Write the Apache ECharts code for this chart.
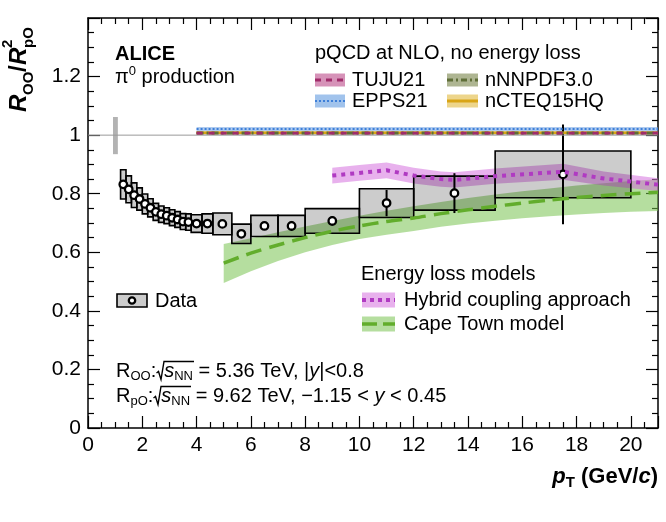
<!DOCTYPE html>
<html>
<head>
<meta charset="utf-8">
<script src="https://cdn.jsdelivr.net/npm/echarts@6/dist/echarts.min.js"></script>
<style>
html,body{margin:0;padding:0;background:#fff;}
#chart{width:666px;height:522px;}
</style>
</head>
<body>
<div id="chart"></div>
<script>
// ---------------- data ----------------
const binLo   = [1.2,1.4,1.6,1.8,2.0,2.2,2.4,2.6,2.8,3.0,3.2,3.4,3.6,3.8,4.2,4.6,5.3,6,7,8,10,12,15];
const binHi   = [1.4,1.6,1.8,2.0,2.2,2.4,2.6,2.8,3.0,3.2,3.4,3.6,3.8,4.2,4.6,5.3,6,7,8,10,12,15,20];
const ptMean  = [1.3,1.5,1.7,1.9,2.1,2.3,2.5,2.7,2.9,3.1,3.3,3.5,3.7,4.0,4.4,4.95,5.65,6.5,7.5,9,11,13.5,17.5];
const ratio   = [0.832,0.815,0.795,0.782,0.765,0.752,0.738,0.730,0.725,0.718,0.712,0.705,0.703,0.698,0.698,0.697,0.663,0.690,0.690,0.707,0.768,0.802,0.866];
const statErr = [0.006,0.006,0.006,0.006,0.006,0.006,0.006,0.006,0.006,0.006,0.007,0.007,0.008,0.008,0.009,0.010,0.011,0.012,0.017,0.016,0.045,0.068,0.170];
const sysErr  = [0.050,0.046,0.042,0.038,0.034,0.031,0.029,0.028,0.027,0.027,0.027,0.027,0.028,0.030,0.033,0.037,0.033,0.036,0.036,0.042,0.049,0.058,0.080];

// normalisation uncertainty box at unity
const normPt  = [0.92, 1.10];
const normVal = [0.935, 1.062];

// reference line at unity
const unityX = [0, 21];
const unityY = [1, 1];

// pQCD at NLO, no energy loss (flat near unity)
const pqcdPt       = [4, 21];
const epps21Mid    = [1.021, 1.021];
const epps21Err    = [0.007, 0.007];
const tuju21Mid    = [1.007, 1.007];
const tuju21Err    = [0.004, 0.004];
const nnnpdfMid    = [1.007, 1.007];
const nnnpdfErr    = [0.005, 0.005];
const ncteqMid     = [1.008, 1.008];
const ncteqErr     = [0.005, 0.005];

// Hybrid coupling approach
const hybridPt  = [9, 10, 11, 12, 13, 13.5, 15, 17.5, 19, 21];
const hybridMid = [0.862, 0.871, 0.880, 0.862, 0.850, 0.847, 0.860, 0.875, 0.852, 0.831];
const hybridErr = [0.027, 0.027, 0.027, 0.027, 0.026, 0.026, 0.026, 0.027, 0.024, 0.022];

// Cape Town model
const capePt  = [5, 6, 7, 8, 9, 10, 11, 12, 13, 14, 15, 16, 17, 18, 19, 20, 21];
const capeMid = [0.563,0.597,0.625,0.650,0.672,0.690,0.705,0.717,0.732,0.745,0.757,0.768,0.778,0.787,0.794,0.800,0.805];
const capeHi  = [0.628,0.648,0.668,0.688,0.707,0.725,0.742,0.757,0.772,0.785,0.797,0.808,0.818,0.828,0.836,0.843,0.849];
const capeLo  = [0.495,0.535,0.570,0.600,0.625,0.645,0.660,0.673,0.687,0.698,0.708,0.716,0.723,0.729,0.734,0.738,0.741];

// axes
const xMin = 0, xMax = 21, xStep = 2;
const yMin = 0, yMax = 1.4, yStep = 0.2;

// ---------------- helpers ----------------
const FF = '"Liberation Sans", Arial, Helvetica, sans-serif';

function bandSeries(name, xs, lo, hi, fill) {
  const data = xs.map((x, i) => [x, lo[i], hi[i]]);
  return {
    name, type: 'custom', coordinateSystem: 'cartesian2d', silent: true, clip: true,
    encode: { x: 0, y: [1, 2] },
    data,
    renderItem: (params, api) => {
      if (params.dataIndex !== 0) return null;
      const pts = [];
      for (let i = 0; i < data.length; i++) pts.push(api.coord([data[i][0], data[i][2]]));
      for (let i = data.length - 1; i >= 0; i--) pts.push(api.coord([data[i][0], data[i][1]]));
      return { type: 'polygon', shape: { points: pts }, style: { fill } };
    }
  };
}
function lineSeries(name, xs, ys, color, width, dash, smooth) {
  return {
    name, type: 'line', silent: true, showSymbol: false, symbol: 'none', smooth: smooth || false,
    data: xs.map((x, i) => [x, ys[i]]),
    lineStyle: { color, width, type: dash || 'solid' },
    animation: false
  };
}
const sub = (a, b) => a.map((v, i) => +(v - b[i]).toFixed(4));
const add = (a, b) => a.map((v, i) => +(v + b[i]).toFixed(4));

// ---------------- axes styling ----------------
function axisCommon(showLabel) {
  return {
    axisLine: { show: true, onZero: false, lineStyle: { color: '#000', width: 1.5 } },
    axisTick: { show: true, inside: true, length: 12, lineStyle: { color: '#000', width: 1.2 } },
    minorTick: { show: true, splitNumber: 4, length: 6, lineStyle: { color: '#000', width: 1.2 } },
    splitLine: { show: false }, minorSplitLine: { show: false },
    axisLabel: { show: showLabel, color: '#000', fontSize: 21, fontFamily: FF, margin: 7, showMaxLabel: false }
  };
}
const xAxisCfg = (pos, showLabel) => Object.assign({ type: 'value', position: pos, min: xMin, max: xMax, interval: xStep }, axisCommon(showLabel));
const yAxisCfg = (pos, showLabel) => Object.assign({ type: 'value', position: pos, min: yMin, max: yMax, interval: yStep }, axisCommon(showLabel));

// ---------------- series ----------------
const series = [];
series.push(lineSeries('unity', unityX, unityY, '#9a9a9a', 1));
series.push({
  name: 'norm', type: 'custom', silent: true, clip: true,
  data: [[normPt[0], normPt[1], normVal[0], normVal[1]]],
  renderItem: (params, api) => {
    const p1 = api.coord([api.value(0), api.value(3)]);
    const p2 = api.coord([api.value(1), api.value(2)]);
    return { type: 'rect', shape: { x: p1[0], y: p1[1], width: p2[0] - p1[0], height: p2[1] - p1[1] }, style: { fill: '#b3b3b3' } };
  }
});
// pQCD bands
series.push(bandSeries('EPPS21 band', pqcdPt, sub(epps21Mid, epps21Err), add(epps21Mid, epps21Err), 'rgba(110,160,225,0.55)'));
series.push(bandSeries('nNNPDF band', pqcdPt, sub(nnnpdfMid, nnnpdfErr), add(nnnpdfMid, nnnpdfErr), 'rgba(110,120,70,0.45)'));
series.push(bandSeries('nCTEQ band', pqcdPt, sub(ncteqMid, ncteqErr), add(ncteqMid, ncteqErr), 'rgba(225,180,40,0.45)'));
series.push(bandSeries('TUJU band', pqcdPt, sub(tuju21Mid, tuju21Err), add(tuju21Mid, tuju21Err), 'rgba(190,80,140,0.45)'));
series.push(lineSeries('EPPS21', pqcdPt, epps21Mid, '#3d7fd9', 2, [2, 2]));
series.push(lineSeries('nCTEQ15HQ', pqcdPt, ncteqMid, '#d9a516', 2.5));
series.push(lineSeries('nNNPDF3.0', pqcdPt, nnnpdfMid, '#5f6e38', 3, [7, 3, 2, 3]));
series.push(lineSeries('TUJU21', pqcdPt, tuju21Mid, '#a02c6a', 3, [6, 6]));
// model bands
series.push(bandSeries('Cape band', capePt, capeLo, capeHi, 'rgba(120,195,80,0.55)'));
series.push(bandSeries('Hybrid band', hybridPt, sub(hybridMid, hybridErr), add(hybridMid, hybridErr), 'rgba(210,100,220,0.5)'));
series.push(lineSeries('Cape Town model', capePt, capeMid, '#62ad2c', 3.5, [16, 8], 0.3));
series.push(lineSeries('Hybrid coupling approach', hybridPt, hybridMid, '#b03ac2', 4, [4, 5]));
// data systematic boxes
series.push({
  name: 'sys', type: 'custom', silent: true, clip: true,
  encode: { x: [0, 1], y: 2 },
  data: ratio.map((v, i) => [binLo[i], binHi[i], v, sysErr[i]]),
  renderItem: (params, api) => {
    const p1 = api.coord([api.value(0), api.value(2) + api.value(3)]);
    const p2 = api.coord([api.value(1), api.value(2) - api.value(3)]);
    return { type: 'rect', shape: { x: p1[0], y: p1[1], width: p2[0] - p1[0], height: p2[1] - p1[1] },
      style: { fill: 'rgba(0,0,0,0.2)', stroke: '#000', lineWidth: 1.6 } };
  }
});
// statistical error bars
series.push({
  name: 'stat', type: 'custom', silent: true, clip: true,
  encode: { x: 0, y: 1 },
  data: ratio.map((v, i) => [ptMean[i], v, statErr[i]]),
  renderItem: (params, api) => {
    const a = api.coord([api.value(0), api.value(1) - api.value(2)]);
    const b = api.coord([api.value(0), api.value(1) + api.value(2)]);
    return { type: 'line', shape: { x1: a[0], y1: a[1], x2: b[0], y2: b[1] }, style: { stroke: '#000', lineWidth: 2 } };
  }
});
series.push({
  name: 'Data', type: 'scatter', silent: true, symbol: 'circle', symbolSize: 7.5,
  data: ratio.map((v, i) => [ptMean[i], v]),
  itemStyle: { color: '#fff', borderColor: '#000', borderWidth: 2.3, opacity: 1 }
});

// ---------------- graphic (legends & labels) ----------------
const T = (x, y, text, font) => ({
  type: 'text', x, y, silent: true,
  style: { text, font: font || ('20px ' + FF), fill: '#000', align: 'left', verticalAlign: 'middle' }
});
const richBase = {
  n:   { fontSize: 20, fontFamily: FF, lineHeight: 24 },
  i:   { fontSize: 20, fontFamily: FF, fontStyle: 'italic', lineHeight: 24 },
  sub: { fontSize: 13, fontFamily: FF, lineHeight: 13, verticalAlign: 'bottom' },
  sup: { fontSize: 13, fontFamily: FF, lineHeight: 13, verticalAlign: 'top' },
  rad: { fontSize: 20, fontFamily: FF, lineHeight: 24, width: 8 }
};
const RT = (x, y, text, rich, align) => ({
  type: 'text', x, y, silent: true,
  style: { text, rich, fill: '#000', align: align || 'left', verticalAlign: 'middle', font: '20px ' + FF }
});
// square-root sign drawn as a polyline with overbar
function radical(x0, cy, xEnd) {
  return { type: 'polyline', silent: true,
    shape: { points: [[x0, cy + 1], [x0 + 2, cy - 0.5], [x0 + 4.5, cy + 7.5], [x0 + 7.5, cy - 10.5], [xEnd, cy - 10.5]] },
    style: { stroke: '#000', lineWidth: 1.4, fill: null } };
}

function swatch(x, y, w, h, fill, lineColor, lw, dash) {
  return [
    { type: 'rect', silent: true, shape: { x, y: y - h / 2, width: w, height: h }, style: { fill } },
    { type: 'line', silent: true, shape: { x1: x, y1: y, x2: x + w, y2: y }, style: { stroke: lineColor, lineWidth: lw, lineDash: dash || null } }
  ];
}

const graphics = [];
graphics.push(T(115, 54, 'ALICE', 'bold 20px ' + FF));
graphics.push(RT(115, 77, '{n|π}{sup|0}{n| production}', richBase));
graphics.push(T(315, 53, 'pQCD at NLO, no energy loss'));
graphics.push(...swatch(315, 80, 30, 13, 'rgba(200,110,160,0.75)', '#a02c6a', 3, [6, 5]));
graphics.push(T(352, 80, 'TUJU21'));
graphics.push(...swatch(447, 80, 31, 13, 'rgba(140,150,100,0.7)', '#5f6e38', 3, [6, 3, 2, 3]));
graphics.push(T(485, 80, 'nNNPDF3.0'));
graphics.push(...swatch(315, 101, 30, 13, 'rgba(130,175,230,0.75)', '#3d7fd9', 2, [2, 2]));
graphics.push(T(352, 101, 'EPPS21'));
graphics.push(...swatch(447, 101, 31, 13, 'rgba(230,195,90,0.7)', '#d9a516', 3));
graphics.push(T(485, 101, 'nCTEQ15HQ'));

graphics.push(T(361, 274, 'Energy loss models'));
graphics.push(...swatch(362, 300, 33, 15, 'rgba(210,100,220,0.5)', '#b03ac2', 4, [4, 4]));
graphics.push(T(404, 300, 'Hybrid coupling approach'));
graphics.push(...swatch(362, 324, 33, 15, 'rgba(120,195,80,0.55)', '#62ad2c', 3.5, [15, 6]));
graphics.push(T(404, 324, 'Cape Town model'));

graphics.push({ type: 'rect', silent: true, shape: { x: 117, y: 294, width: 30, height: 13 }, style: { fill: '#cccccc', stroke: '#000', lineWidth: 1.6 } });
graphics.push({ type: 'circle', silent: true, shape: { cx: 132, cy: 300.5, r: 3.2 }, style: { fill: '#fff', stroke: '#000', lineWidth: 2.3 } });
graphics.push(T(155, 301, 'Data'));

graphics.push(RT(116, 371, '{n|R}{sub|OO}{n|:}{rad|}{i|s}{sub|NN}{n| = 5.36 TeV, |}{i|y}{n||<0.8}', richBase));
graphics.push(radical(156.5, 372, 194));
graphics.push(RT(116, 396, '{n|R}{sub|pO}{n|:}{rad|}{i|s}{sub|NN}{n| = 9.62 TeV, −1.15 < }{i|y}{n| < 0.45}', richBase));
graphics.push(radical(153.5, 397, 191));

// x axis title
graphics.push(RT(658, 477, '{bi|p}{bs|T}{b| (GeV/}{bi|c}{b|)}', {
  b:  { fontSize: 22, fontWeight: 'bold', fontFamily: FF, lineHeight: 26 },
  bi: { fontSize: 22, fontWeight: 'bold', fontStyle: 'italic', fontFamily: FF, lineHeight: 26 },
  bs: { fontSize: 15, fontWeight: 'bold', fontFamily: FF, lineHeight: 15, verticalAlign: 'bottom' }
}, 'right'));

// y axis title (rotated)
const yT = (lx, ly, text, font) => ({ type: 'text', x: lx, y: ly, silent: true,
  style: { text, font, fill: '#000', align: 'left', verticalAlign: 'middle' } });
graphics.push({
  type: 'group', x: 19, y: 112, rotation: Math.PI / 2, silent: true,
  children: [
    yT(0, 0, 'R', 'italic bold 24px ' + FF),
    yT(17, 10, 'OO', 'bold 15px ' + FF),
    yT(40, 0, '/', 'bold 24px ' + FF),
    yT(47, 0, 'R', 'italic bold 24px ' + FF),
    yT(64, -11, '2', 'bold 15px ' + FF),
    yT(64, 10, 'pO', 'bold 15px ' + FF)
  ]
});

const chart = echarts.init(document.getElementById('chart'), null, { renderer: 'canvas' });
chart.setOption({
  animation: false,
  backgroundColor: '#fff',
  grid: { left: 88, right: 8, top: 18, bottom: 94, containLabel: false },
  xAxis: [xAxisCfg('bottom', true), xAxisCfg('top', false)],
  yAxis: [yAxisCfg('left', true), yAxisCfg('right', false)],
  series,
  graphic: graphics
});
</script>
</body>
</html>
